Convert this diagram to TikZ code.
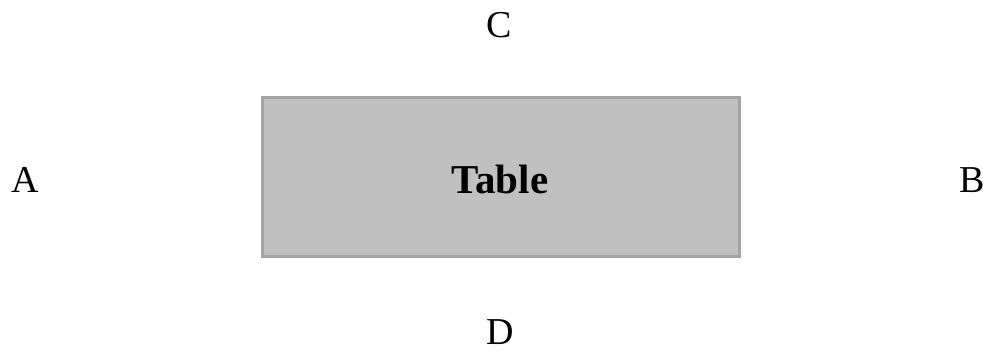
\documentclass[tikz,border=0pt]{standalone}
\usepackage{fontspec}
\setmainfont{Liberation Serif}
\definecolor{tabfill}{HTML}{C0C0C0}
\definecolor{tabedge}{HTML}{A4A4A4}
\begin{document}
\begin{tikzpicture}[x=1pt,y=1pt,
  lbl/.style={font=\fontsize{38}{40}\selectfont, inner sep=0pt},
  tablebox/.style={draw=tabedge, fill=tabfill, line width=3pt, minimum width=477pt, minimum height=158pt, inner sep=0pt}]
\useasboundingbox (0,0) rectangle (983,354);
\node[tablebox] (t) at (500.5,177) {};
\node[font=\fontsize{41}{43}\selectfont\bfseries, inner sep=0pt] (tl) at (500,175) {Table};
\node[lbl] (c) at (499,329) {C};
\node[lbl] (a) at (25,174) {A};
\node[lbl] (b) at (972,174) {B};
\node[lbl] (d) at (500,22) {D};
\end{tikzpicture}
\end{document}
